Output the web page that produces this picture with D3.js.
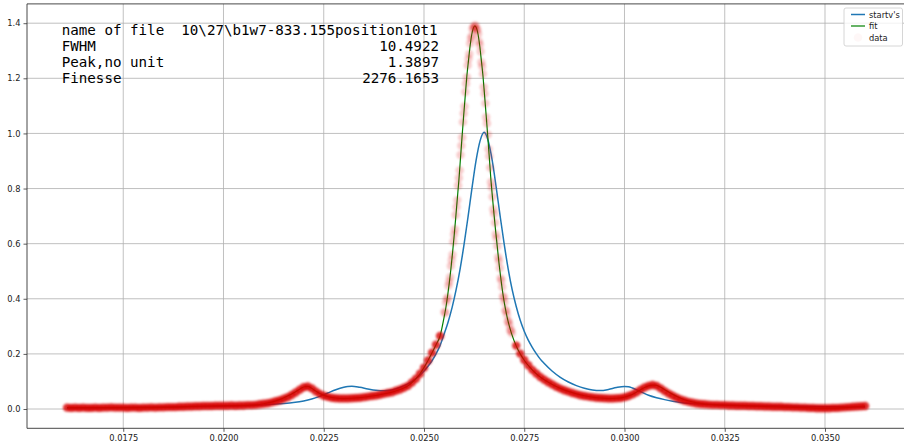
<!DOCTYPE html>
<html><head><meta charset="utf-8">
<script src="https://cdn.jsdelivr.net/npm/d3@7"></script>
<style>body{margin:0;background:#fff} svg{display:block}</style>
</head><body><svg id="c" width="904" height="448"></svg>
<script>
// ---------- data ----------
const xTicks = [0.0175, 0.0200, 0.0225, 0.0250, 0.0275, 0.0300, 0.0325, 0.0350];
const yTicks = [0.0, 0.2, 0.4, 0.6, 0.8, 1.0, 1.2, 1.4];
const infoLabels = ["name of file", "FWHM", "Peak,no unit", "Finesse"];
const infoValues = ["10\\27\\b1w7-833.155position10t1", "10.4922", "1.3897", "2276.1653"];
const legendLabels = ["startv's", "fit", "data"];

const startvPts = [[0.0161,0.004],[0.0170,0.005],[0.0180,0.006],[0.0190,0.008],[0.0200,0.010],[0.0205,0.012],[0.0210,0.015],[0.0214,0.019],[0.0217,0.023],[0.0220,0.029],[0.0222,0.036],[0.0224,0.046],[0.0226,0.058],[0.0228,0.070],[0.0230,0.079],[0.0231,0.082],[0.0232,0.083],[0.0234,0.079],[0.0236,0.073],[0.0238,0.068],[0.0240,0.066],[0.0242,0.069],[0.0244,0.078],[0.0246,0.091],[0.0248,0.110],[0.0250,0.138],[0.0251,0.155],[0.0252,0.175],[0.0253,0.200],[0.0254,0.230],[0.0255,0.271],[0.0256,0.315],[0.0257,0.368],[0.0258,0.432],[0.0259,0.508],[0.0260,0.598],[0.0261,0.699],[0.0262,0.805],[0.0263,0.903],[0.0264,0.974],[0.0265,1.004],[0.0266,0.974],[0.0267,0.903],[0.0268,0.805],[0.0269,0.699],[0.0270,0.598],[0.0271,0.508],[0.0272,0.432],[0.0273,0.372],[0.0274,0.322],[0.0275,0.282],[0.0276,0.250],[0.0277,0.224],[0.0278,0.201],[0.0279,0.181],[0.0280,0.165],[0.0282,0.137],[0.0284,0.115],[0.0286,0.098],[0.0288,0.085],[0.0290,0.075],[0.0292,0.069],[0.0294,0.067],[0.0296,0.071],[0.0298,0.078],[0.0300,0.082],[0.0301,0.081],[0.0302,0.076],[0.0304,0.063],[0.0306,0.050],[0.0308,0.041],[0.0310,0.034],[0.0312,0.028],[0.0314,0.024],[0.0316,0.021],[0.0318,0.019],[0.0320,0.017],[0.0325,0.014],[0.0330,0.012],[0.0340,0.010],[0.0350,0.008],[0.0360,0.007]];

const fitPts = [[0.0161,0.005],[0.0170,0.005],[0.0180,0.005],[0.0185,0.006],[0.0190,0.008],[0.0195,0.011],[0.0200,0.012],[0.0205,0.013],[0.0208,0.015],[0.0210,0.019],[0.0212,0.025],[0.0214,0.034],[0.0216,0.047],[0.0218,0.063],[0.0219,0.072],[0.0220,0.080],[0.0221,0.082],[0.0222,0.075],[0.0223,0.065],[0.0224,0.056],[0.0226,0.045],[0.0228,0.040],[0.0230,0.038],[0.0232,0.039],[0.0234,0.041],[0.0236,0.045],[0.0238,0.049],[0.0240,0.055],[0.0242,0.061],[0.0244,0.071],[0.0246,0.084],[0.0247,0.096],[0.0248,0.110],[0.0249,0.128],[0.0250,0.150],[0.0251,0.176],[0.0252,0.204],[0.0253,0.233],[0.0254,0.265],
[0.02551,0.340],[0.02555,0.372],[0.02559,0.412],[0.02563,0.457],[0.02567,0.507],[0.02571,0.564],[0.02575,0.625],[0.02579,0.692],[0.02583,0.762],[0.02587,0.830],[0.02591,0.910],[0.02595,0.990],[0.02599,1.066],[0.02603,1.139],[0.02607,1.210],[0.02611,1.265],[0.02615,1.318],[0.02619,1.358],[0.02623,1.382],[0.02627,1.390],[0.02631,1.382],[0.02635,1.358],[0.02639,1.318],[0.02643,1.265],[0.02647,1.210],[0.02651,1.139],[0.02655,1.066],[0.02659,0.990],[0.02663,0.910],[0.02667,0.830],[0.02671,0.764],[0.02675,0.701],[0.02679,0.641],[0.02683,0.585],[0.02687,0.530],[0.02691,0.481],[0.02695,0.436],[0.02699,0.397],[0.02703,0.364],[0.02707,0.335],[0.02711,0.311],[0.02715,0.290],[0.02719,0.271],
[0.0273,0.229],[0.0274,0.200],[0.0275,0.177],[0.0276,0.158],[0.0277,0.142],[0.0278,0.128],[0.0279,0.116],[0.0280,0.106],[0.0282,0.089],[0.0284,0.075],[0.0286,0.064],[0.0288,0.055],[0.0290,0.048],[0.0292,0.043],[0.0294,0.040],[0.0296,0.038],[0.0298,0.039],[0.0300,0.043],[0.0302,0.053],[0.0304,0.070],[0.0305,0.078],[0.0306,0.084],[0.0307,0.087],[0.0308,0.086],[0.0309,0.079],[0.0310,0.070],[0.0312,0.053],[0.0314,0.039],[0.0316,0.029],[0.0318,0.022],[0.0320,0.018],[0.0322,0.016],[0.0325,0.014],[0.0330,0.012],[0.0335,0.009],[0.0340,0.007],[0.0345,0.005],[0.0350,0.003],[0.0355,0.005],[0.0360,0.011]];

// measured data, three sampling segments (start, step, values)
const dataLeftStart = 0.0161, dataLeftStep = 0.0001;
const dataLeft = [0.005,0.004,0.005,0.004,0.005,0.004,0.004,0.005,0.004,0.005,0.005,0.006,0.005,0.005,0.005,0.004,0.005,0.005,0.004,0.005,0.005,0.006,0.005,0.006,0.006,0.007,0.007,0.007,0.008,0.008,0.009,0.009,0.010,0.010,0.011,0.011,0.011,0.012,0.012,0.012,0.012,0.013,0.012,0.013,0.013,0.014,0.014,0.015,0.017,0.019,0.021,0.024,0.028,0.032,0.037,0.043,0.051,0.060,0.070,0.079,0.082,0.075,0.064,0.055,0.048,0.044,0.041,0.039,0.038,0.038,0.038,0.039,0.040,0.041,0.043,0.045,0.047,0.049,0.052,0.055,0.058,0.061,0.066,0.071,0.077,0.084,0.096,0.110,0.128,0.150,0.176,0.204,0.233,0.265];
const dataPeakStart = 0.02551, dataPeakStep = 0.00002;
const dataPeak = [0.352,0.349,0.386,0.398,0.405,0.447,0.462,0.478,0.519,0.541,0.560,0.607,0.633,0.652,0.704,0.733,0.758,0.811,0.838,0.866,0.922,0.955,0.985,1.041,1.072,1.098,1.150,1.180,1.204,1.247,1.270,1.288,1.326,1.345,1.353,1.378,1.386,1.383,1.392,1.389,1.377,1.376,1.361,1.334,1.322,1.297,1.258,1.243,1.216,1.168,1.144,1.109,1.059,1.036,0.996,0.943,0.917,0.876,0.823,0.804,0.770,0.725,0.708,0.676,0.634,0.620,0.591,0.551,0.537,0.512,0.475,0.466,0.443,0.409,0.404,0.387,0.358,0.356,0.341,0.317,0.318,0.305,0.285,0.286,0.275];
const dataRightStart = 0.0273, dataRightStep = 0.0001;
const dataRight = [0.230,0.201,0.178,0.159,0.142,0.129,0.116,0.106,0.097,0.089,0.081,0.074,0.068,0.063,0.058,0.054,0.050,0.047,0.045,0.043,0.041,0.040,0.039,0.038,0.038,0.039,0.040,0.043,0.047,0.053,0.061,0.070,0.078,0.084,0.087,0.084,0.075,0.065,0.056,0.048,0.041,0.035,0.030,0.026,0.023,0.020,0.018,0.017,0.016,0.015,0.015,0.014,0.014,0.013,0.013,0.012,0.012,0.012,0.011,0.011,0.010,0.010,0.009,0.009,0.008,0.008,0.008,0.007,0.007,0.006,0.006,0.005,0.005,0.004,0.004,0.003,0.003,0.003,0.003,0.004,0.004,0.005,0.006,0.007,0.008,0.009,0.010,0.011];

// ---------- layout ----------
const svg = d3.select("#c");
const L = 27, R = 905.2, T = 3.9, B = 428.3;
const x = d3.scaleLinear().domain([0.0151, 0.0370]).range([L, R]);
const y = d3.scaleLinear().domain([-0.07, 1.47]).range([B, T]);
const tickFont = "DejaVu Sans, sans-serif";

const defs = svg.append("defs");
defs.append("clipPath").attr("id","clip")
  .append("rect").attr("x",L).attr("y",T).attr("width",R-L).attr("height",B-T);
defs.append("filter").attr("id","soft").attr("x","-5%").attr("y","-5%").attr("width","110%").attr("height","110%")
  .append("feGaussianBlur").attr("stdDeviation",0.9);

// grid
const grid = svg.append("g").attr("stroke","#b0b0b0").attr("stroke-width",0.8);
xTicks.forEach(t => grid.append("line").attr("x1",x(t)).attr("x2",x(t)).attr("y1",T).attr("y2",B));
yTicks.forEach(t => grid.append("line").attr("x1",L).attr("x2",R).attr("y1",y(t)).attr("y2",y(t)));

// axes
const xa = svg.append("g").attr("transform",`translate(0,${B})`)
  .call(d3.axisBottom(x).tickValues(xTicks).tickFormat(d3.format(".4f")).tickSize(3.5).tickPadding(3));
const ya = svg.append("g").attr("transform",`translate(${L},0)`)
  .call(d3.axisLeft(y).tickValues(yTicks).tickFormat(d3.format(".1f")).tickSize(3.5).tickPadding(3));
[xa, ya].forEach(a => {
  a.select(".domain").remove();
  a.selectAll(".tick line").attr("stroke","#333").attr("stroke-width",0.8);
  a.selectAll(".tick text").attr("fill","#222").style("font-family",tickFont).style("font-size","8.3px");
});

// spines
const sp = svg.append("g").attr("stroke","#333").attr("stroke-width",0.9).attr("fill","none");
sp.append("line").attr("x1",L).attr("x2",L).attr("y1",T).attr("y2",B);
sp.append("line").attr("x1",L).attr("x2",R).attr("y1",B).attr("y2",B);
sp.append("line").attr("x1",L).attr("x2",R).attr("y1",T).attr("y2",T);

// lines
const plot = svg.append("g").attr("clip-path","url(#clip)");
const line = d3.line().x(d=>x(d[0])).y(d=>y(d[1])).curve(d3.curveMonotoneX);
plot.append("path").datum(startvPts).attr("d",line).attr("fill","none").attr("stroke","#1f77b4").attr("stroke-width",1.5);
plot.append("path").datum(fitPts).attr("d",line).attr("fill","none").attr("stroke","#008000").attr("stroke-width",1.2);

// data markers
function seg(start, step, vals){ return vals.map((v,i)=>[start+step*i, v]); }
const segments = [
  {pts: seg(dataLeftStart, dataLeftStep, dataLeft), op: 0.8},
  {pts: seg(dataPeakStart, dataPeakStep, dataPeak), op: 0.2},
  {pts: seg(dataRightStart, dataRightStep, dataRight), op: 0.8}
];
segments.forEach(s => {
  plot.append("g").attr("filter","url(#soft)").selectAll("circle").data(s.pts).join("circle")
    .attr("cx",d=>x(d[0])).attr("cy",d=>y(d[1])).attr("r",4.2)
    .attr("fill","#d80000").attr("fill-opacity",s.op);
});

// info text
const info = svg.append("g").style("font-family","DejaVu Sans Mono, monospace").style("font-size","14.2px").attr("fill","#000");
infoLabels.forEach((lab,i) => {
  const yy = 35 + i*16;
  if (i === 0) {
    info.append("text").attr("x",61.7).attr("y",yy).attr("xml:space","preserve").style("white-space","pre")
      .text(lab + "  " + infoValues[i]);
  } else {
    info.append("text").attr("x",61.7).attr("y",yy).text(lab);
    info.append("text").attr("x",439).attr("y",yy).attr("text-anchor","end").text(infoValues[i]);
  }
});

// legend
const lg = svg.append("g");
lg.append("rect").attr("x",844).attr("y",8).attr("width",58.5).attr("height",38).attr("rx",2)
  .attr("fill","#fff").attr("fill-opacity",0.8).attr("stroke","#cccccc").attr("stroke-width",0.8);
const lc = ["#1f77b4","#008000"];
legendLabels.forEach((lab,i) => {
  const yy = 14.5 + i*11.5;
  if (i < 2) lg.append("line").attr("x1",851).attr("x2",865).attr("y1",yy).attr("y2",yy).attr("stroke",lc[i]).attr("stroke-width",i===0?1.5:1.2);
  else lg.append("circle").attr("cx",858).attr("cy",yy).attr("r",4.3).attr("fill","#d40000").attr("fill-opacity",0.03);
  lg.append("text").attr("x",869).attr("y",yy+3).style("font-family",tickFont).style("font-size","8.3px").attr("fill","#222").text(lab);
});
</script></body></html>
